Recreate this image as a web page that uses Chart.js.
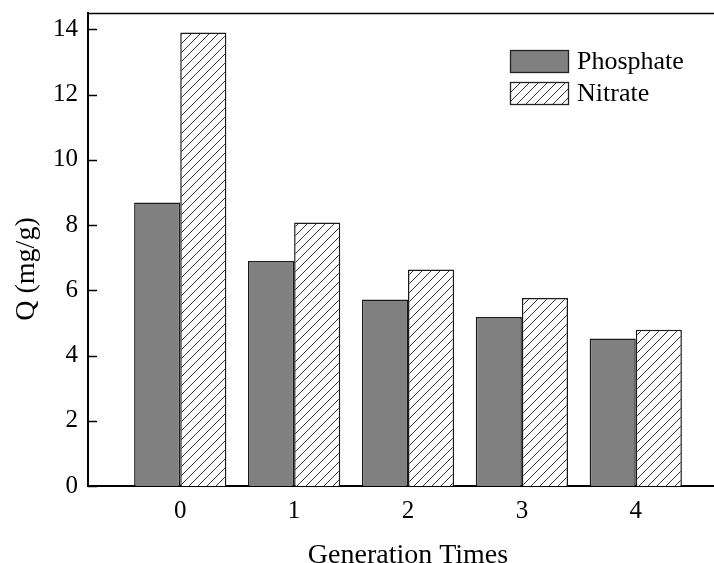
<!DOCTYPE html>
<html>
<head>
<meta charset="utf-8">
<script src="https://cdn.jsdelivr.net/npm/chart.js@4"></script>
<style>
  html, body { margin: 0; padding: 0; background: #fff; overflow: hidden; }
  #wrap { position: relative; width: 730px; height: 572px; }
</style>
</head>
<body>
<div id="wrap"><canvas id="c" width="730" height="572"></canvas></div>
<script>
// Regeneration cycles and adsorption capacity Q (mg/g)
const generations = [0, 1, 2, 3, 4];
const phosphate = [8.69, 6.90, 5.72, 5.18, 4.52];
const nitrate   = [13.90, 8.08, 6.64, 5.76, 4.79];
const yTicks = [0, 2, 4, 6, 8, 10, 12, 14];
const seriesNames = ['Phosphate', 'Nitrate'];
const yTitle = 'Q (mg/g)';
const xTitle = 'Generation Times';

const FONT = "'Liberation Serif', 'Times New Roman', serif";

// diagonal "/" hatch tile
function makeHatch() {
  const s = 9;
  const t = document.createElement('canvas');
  t.width = s; t.height = s;
  const g = t.getContext('2d');
  g.fillStyle = '#fff';
  g.fillRect(0, 0, s, s);
  g.strokeStyle = '#333';
  g.lineWidth = 1;
  g.beginPath();
  g.moveTo(0, s); g.lineTo(s, 0);
  g.moveTo(-s / 2, s / 2); g.lineTo(s / 2, -s / 2);
  g.moveTo(s / 2, s + s / 2); g.lineTo(s + s / 2, s / 2);
  g.stroke();
  return document.getElementById('c').getContext('2d').createPattern(t, 'repeat');
}
const hatch = makeHatch();

// frame top line, inward y ticks, y title and the legend
const decor = {
  id: 'decor',
  afterDraw(chart) {
    const { ctx, chartArea: a, scales } = chart;
    ctx.save();
    ctx.strokeStyle = '#000';
    ctx.lineWidth = 1.5;
    ctx.beginPath();
    ctx.moveTo(a.left, a.top + 0.5);
    ctx.lineTo(a.right + 10, a.top + 0.5);
    ctx.stroke();

    ctx.lineWidth = 1.5;
    yTicks.forEach(v => {
      const y = Math.round(scales.y.getPixelForValue(v)) + 0.5;
      ctx.beginPath();
      ctx.moveTo(a.left, y);
      ctx.lineTo(a.left + 9, y);
      ctx.stroke();
    });

    // rotated y-axis title
    ctx.save();
    ctx.translate(27, 269);
    ctx.rotate(-Math.PI / 2);
    ctx.font = '28px ' + FONT;
    ctx.fillStyle = '#000';
    ctx.textAlign = 'center';
    ctx.textBaseline = 'middle';
    ctx.fillText(yTitle, 0, 0);
    ctx.restore();

    // legend
    const fills = [chart.data.datasets[0].backgroundColor, hatch];
    const bx = 510, bw = 58, bh = 22;
    const rows = [50, 82];
    ctx.font = '26px ' + FONT;
    ctx.textBaseline = 'middle';
    seriesNames.forEach((name, i) => {
      ctx.fillStyle = fills[i];
      ctx.fillRect(bx, rows[i], bw, bh);
      ctx.strokeStyle = '#222';
      ctx.lineWidth = 1.3;
      ctx.strokeRect(bx + 0.5, rows[i] + 0.5, bw, bh);
      ctx.fillStyle = '#000';
      ctx.fillText(name, 577, rows[i] + bh / 2 + 1);
    });
    ctx.restore();
  }
};

new Chart(document.getElementById('c'), {
  type: 'bar',
  data: {
    datasets: [
      {
        label: seriesNames[0],
        data: generations.map((g, i) => ({ x: g, y: phosphate[i] })),
        backgroundColor: '#808080',
        borderColor: '#1a1a1a',
        borderWidth: 1.5,
        borderSkipped: 'bottom'
      },
      {
        label: seriesNames[1],
        data: generations.map((g, i) => ({ x: g, y: nitrate[i] })),
        backgroundColor: hatch,
        borderColor: '#1a1a1a',
        borderWidth: 1.5,
        borderSkipped: 'bottom'
      }
    ]
  },
  options: {
    responsive: false,
    animation: false,
    categoryPercentage: 0.81,
    barPercentage: 1.0,
    layout: { padding: { top: 13, right: 2, left: 0, bottom: 0 } },
    plugins: { legend: { display: false }, tooltip: { enabled: false } },
    scales: {
      x: {
        type: 'linear',
        offset: false,
        min: -0.81,
        max: 4.81,
        afterBuildTicks(s) { s.ticks = generations.map(v => ({ value: v })); },
        afterFit(s) { s.height = 86; s.paddingLeft = 0; s.paddingRight = 0; },
        grid: { display: false, drawTicks: false },
        border: { display: true, color: '#000', width: 2 },
        ticks: {
          color: '#000',
          font: { family: FONT, size: 25 },
          padding: 10,
          maxRotation: 0,
          callback: v => String(v)
        },
        title: {
          display: true,
          text: xTitle,
          color: '#000',
          font: { family: FONT, size: 28 },
          padding: { top: 0, bottom: 0 }
        }
      },
      y: {
        min: 0,
        max: 14.5,
        afterBuildTicks(s) { s.ticks = yTicks.map(v => ({ value: v })); },
        afterFit(s) { s.width = 88; s.paddingTop = 0; s.paddingBottom = 0; },
        grid: { display: false, drawTicks: false },
        border: { display: true, color: '#000', width: 2 },
        ticks: {
          color: '#000',
          font: { family: FONT, size: 25 },
          padding: 10
        },
        title: { display: false }
      }
    }
  },
  plugins: [decor]
});
</script>
</body>
</html>
